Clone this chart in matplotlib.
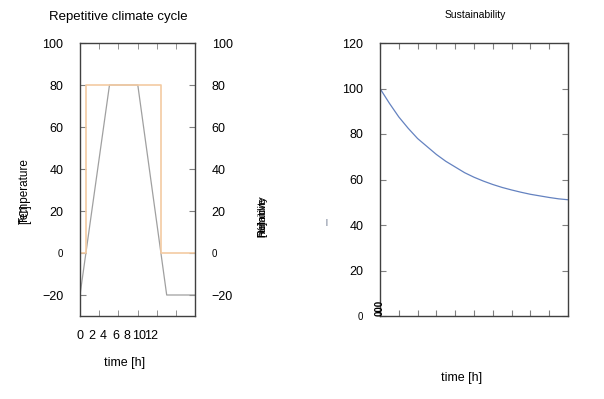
import matplotlib.pyplot as plt
import numpy as np

plt.rcParams['font.family'] = ['Liberation Sans', 'DejaVu Sans']

# left panel: repetitive climate cycle
cycle_t = [0, 5, 9.8, 14.7, 19.5]
cycle_temp = [-20, 80, 80, -20, -20]
hum_t = [0, 1, 1, 13.7, 13.7, 19.5]
hum_val = [0, 0, 80, 80, 0, 0]
cycle_xticks = [0, 2, 4, 6, 8, 10, 12]
cycle_yticks = [100, 80, 60, 40, 20, 0, -20]
cycle_ylabels = ['100', '80', '60', '40', '20', '0', '\u221220']

# right panel: sustainability
sus_t = [0, 5, 10, 15, 20, 25, 30, 35, 40, 45, 50, 55, 60, 65, 70, 75, 80, 85, 90, 95, 100]
sus_val = [100, 93.5, 87.5, 82.5, 78, 74.5, 71, 68, 65.5, 63, 61, 59.3, 57.8, 56.5,
           55.4, 54.4, 53.5, 52.8, 52.1, 51.5, 51.1]
sus_yticks = [0, 20, 40, 60, 80, 100, 120]

W, H = 604, 399
fig = plt.figure(figsize=(W / 100, H / 100), dpi=100)

def px(x0, y0, x1, y1):
    return [x0 / W, 1 - y1 / H, (x1 - x0) / W, (y1 - y0) / H]

spine_col = '#404040'
tick_col = '#808080'

def style(ax):
    for s in ax.spines.values():
        s.set_color(spine_col)
        s.set_linewidth(1.0)

# ---- left
ax1 = fig.add_axes(px(80, 43, 195, 316))
style(ax1)
ax1.plot(cycle_t, cycle_temp, color='#a0a0a0', lw=0.9)
ax1.plot(hum_t, hum_val, color='#f4cba2', lw=1.2)
ax1.set_xlim(0, 19.5)
ax1.set_ylim(-30, 100)
ax1.set_xticks(cycle_xticks)
ax1.set_xticklabels([str(v) for v in cycle_xticks], fontsize=9)
ax1.set_xticks(np.linspace(0, 19.5, 7), minor=True)
ax1.tick_params(axis='x', which='major', length=0, pad=10)
ax1.tick_params(axis='x', which='minor', length=4, direction='in', top=True,
                color=tick_col)
ax1.set_yticks(cycle_yticks)
ax1.set_yticklabels(cycle_ylabels, fontsize=9)
ax1.tick_params(axis='y', length=4, direction='in', right=True, labelright=True,
                pad=12, color=tick_col)
for lab in ax1.get_yticklabels() + ax1.get_yticklabels(which='major'):
    if lab.get_text() == '0':
        lab.set_fontsize(7)
for t in ax1.yaxis.get_major_ticks():
    if t.label1.get_text() == '0':
        t.label1.set_fontsize(7)
        t.label2.set_fontsize(7)
fig.text(118 / W, 1 - 17 / H, 'Repetitive climate cycle', fontsize=9.5,
         ha='center', va='center')
fig.text(125 / W, 1 - 363 / H, 'time [h]', fontsize=9, ha='center', va='center')

# overlapping axis labels
fig.text(25 / W, 1 - 224 / H, 'Temperature', rotation=90, fontsize=8.5,
         ha='center', va='bottom')
fig.text(25 / W, 1 - 224 / H, '[\u00b0C]', rotation=90, fontsize=8.5,
         ha='center', va='bottom')
for s in ['Relative', 'humidity', '[%]']:
    fig.text(262 / W, 1 - 237 / H, s, rotation=90, fontsize=8,
             ha='center', va='bottom')

# ---- right
ax2 = fig.add_axes(px(380, 43, 568, 316))
style(ax2)
ax2.plot(sus_t, sus_val, color='#6482c0', lw=0.9)
ax2.set_xlim(0, 100)
ax2.set_ylim(0, 120)
ax2.set_xticks(np.linspace(0, 100, 11))
ax2.tick_params(axis='x', length=4, direction='in', top=True, labelbottom=False,
                color=tick_col)
ax2.set_yticks(sus_yticks)
ax2.set_yticklabels([str(v) for v in sus_yticks], fontsize=9)
ax2.tick_params(axis='y', length=4, direction='in', right=True, pad=12,
                color=tick_col)
for t in ax2.yaxis.get_major_ticks():
    if t.label1.get_text() == '0':
        t.label1.set_fontsize(7)
fig.text(475 / W, 1 - 15 / H, 'Sustainability', fontsize=7.5,
         ha='center', va='center')
fig.text(462 / W, 1 - 378 / H, 'time [h]', fontsize=9, ha='center', va='center')
fig.text(326 / W, 1 - 223 / H, '|', fontsize=5, color='#304060',
         ha='center', va='center')
# stacked labels at the origin
ax2.text(0, 0, '000', rotation=90, fontsize=7, fontweight='bold',
         ha='center', va='bottom', clip_on=False, color='black',
         transform=ax2.transData)

fig.savefig('out.png', dpi=100)
